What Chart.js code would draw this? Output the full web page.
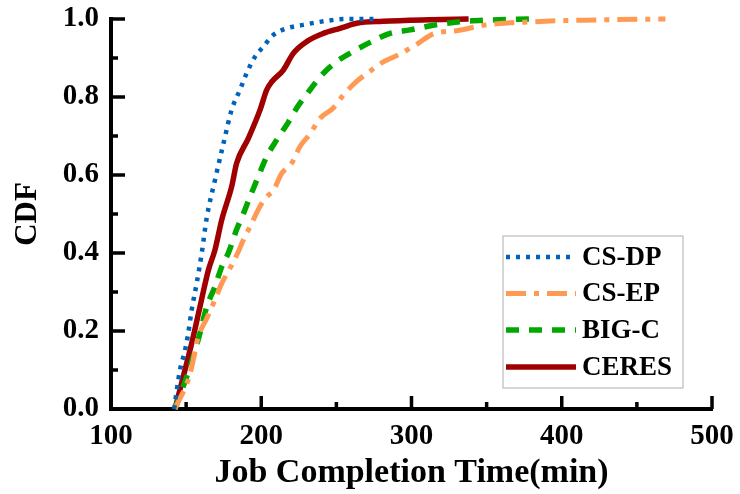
<!DOCTYPE html>
<html>
<head>
<meta charset="utf-8">
<script src="https://cdn.jsdelivr.net/npm/chart.js@4"></script>
<style>
html,body{margin:0;padding:0;background:#fff;}
#wrap{width:740px;height:494px;position:relative;}
</style>
</head>
<body>
<div id="wrap"><canvas id="c" width="740" height="494"></canvas></div>
<script>
// ---- Data ----
const seriesNames = ['CS-DP', 'CS-EP', 'BIG-C', 'CERES'];

const dpX = [142, 145.9, 149.3, 151.4, 153.7, 157, 160.4, 163.7, 169.2, 174.8, 180.3, 186, 190.3, 195.8, 201.4, 208, 216.9, 228, 241.3, 256, 277];
const dpY = [0, 0.10, 0.151, 0.194, 0.254, 0.322, 0.40, 0.49, 0.587, 0.68, 0.767, 0.82, 0.861, 0.903, 0.929, 0.959, 0.976, 0.985, 0.994, 1.0, 1.0];

const epX = [142.6, 152.6, 158.1, 163.7, 169.2, 173.7, 180.3, 184.7, 188, 192.5, 199.2, 203.6, 208, 213.6, 220.2, 225.8, 232.4, 239.1, 248, 254.6, 263.5, 272.4, 281.2, 292.3, 303.4, 314.5, 330, 350, 381, 414, 469];
const epY = [0, 0.09, 0.185, 0.232, 0.28, 0.322, 0.369, 0.403, 0.433, 0.467, 0.52, 0.544, 0.56, 0.604, 0.63, 0.673, 0.705, 0.745, 0.772, 0.805, 0.84, 0.866, 0.89, 0.91, 0.935, 0.962, 0.97, 0.985, 0.993, 0.997, 1.0];

const bgX = [142.6, 152.6, 159.2, 163.7, 169.2, 173.7, 178.1, 183.6, 188, 192.5, 198, 203.6, 210.3, 218, 224.7, 232.4, 240.2, 250.2, 261.3, 272.4, 285.7, 299, 314.5, 332, 350, 379];
const bgY = [0, 0.108, 0.194, 0.262, 0.314, 0.365, 0.40, 0.46, 0.50, 0.544, 0.596, 0.647, 0.69, 0.735, 0.778, 0.818, 0.856, 0.891, 0.917, 0.94, 0.963, 0.972, 0.984, 0.993, 0.997, 1.0];

const ceX = [142.6, 148.1, 153.7, 159.2, 164.8, 169.2, 173.7, 180.3, 183.6, 191.4, 199.2, 203.6, 207, 214.7, 221.3, 230.2, 241.3, 252.4, 263.5, 281, 312, 338];
const ceY = [0, 0.083, 0.168, 0.262, 0.356, 0.408, 0.485, 0.57, 0.63, 0.694, 0.767, 0.818, 0.839, 0.869, 0.912, 0.942, 0.963, 0.976, 0.989, 0.994, 0.998, 1.0];

const xTicks = [100, 200, 300, 400, 500];
const yTicks = [0.0, 0.2, 0.4, 0.6, 0.8, 1.0];

const xTitle = 'Job Completion Time(min)';
const yTitle = 'CDF';

// ---- Build ----
function pts(xs, ys) { return xs.map((x, i) => ({x: x, y: ys[i]})); }

const FONT = '"Liberation Serif", "Times New Roman", serif';

const datasets = [
  {label: seriesNames[0], data: pts(dpX, dpY), borderColor: '#0062B8', borderWidth: 4.5, borderDash: [4, 6], borderCapStyle: 'butt'},
  {label: seriesNames[1], data: pts(epX, epY), borderColor: '#FF9A55', borderWidth: 5, borderDash: [20, 8, 5, 8]},
  {label: seriesNames[2], data: pts(bgX, bgY), borderColor: '#00A800', borderWidth: 5.5, borderDash: [13, 10]},
  {label: seriesNames[3], data: pts(ceX, ceY), borderColor: '#A00000', borderWidth: 5.5}
].map(d => Object.assign(d, {showLine: true, pointRadius: 0, pointHoverRadius: 0, cubicInterpolationMode: 'monotone', fill: false, clip: 6}));

const tickPlugin = {
  id: 'innerTicks',
  afterDraw(chart) {
    const ctx = chart.ctx;
    const xs = chart.scales.x, ys = chart.scales.y;
    const ca = chart.chartArea;
    ctx.save();
    ctx.strokeStyle = '#000';
    ctx.lineWidth = 3.5;
    ctx.lineCap = 'butt';
    for (let v = 100; v <= 500; v += 50) {
      const px = xs.getPixelForValue(v);
      const len = (v % 100 === 0) ? 13 : 7;
      ctx.beginPath(); ctx.moveTo(px, ca.bottom); ctx.lineTo(px, ca.bottom - len); ctx.stroke();
    }
    for (let i = 0; i <= 10; i++) {
      const v = i / 10;
      const py = ys.getPixelForValue(v);
      const len = (i % 2 === 0) ? 14 : 7;
      ctx.beginPath(); ctx.moveTo(ca.left, py); ctx.lineTo(ca.left + len, py); ctx.stroke();
    }
    // legend
    const bx = 503, by = 236, bw = 180, bh = 152;
    ctx.fillStyle = '#fff';
    ctx.fillRect(bx, by, bw, bh);
    ctx.strokeStyle = '#BBBBBB';
    ctx.lineWidth = 1.2;
    ctx.strokeRect(bx, by, bw, bh);
    const rowY = [257, 293.5, 330, 367];
    chart.data.datasets.forEach((d, i) => {
      const y = rowY[i];
      ctx.save();
      ctx.strokeStyle = d.borderColor;
      ctx.lineWidth = d.borderWidth;
      ctx.setLineDash(d.borderDash || []);
      ctx.beginPath(); ctx.moveTo(506, y); ctx.lineTo(576, y); ctx.stroke();
      ctx.restore();
      ctx.fillStyle = '#000';
      ctx.font = 'bold 27px ' + FONT;
      ctx.textBaseline = 'middle';
      ctx.textAlign = 'left';
      ctx.fillText(d.label, 582, y + 1);
    });
    ctx.restore();
  }
};

new Chart(document.getElementById('c'), {
  type: 'scatter',
  data: {datasets: datasets},
  plugins: [tickPlugin],
  options: {
    responsive: false,
    animation: false,
    devicePixelRatio: 1,
    layout: {padding: {top: 19, right: 28, left: 0, bottom: 0}},
    plugins: {legend: {display: false}, tooltip: {enabled: false}},
    scales: {
      x: {
        type: 'linear', min: 100, max: 500,
        afterBuildTicks(s) { s.ticks = xTicks.map(v => ({value: v})); },
        afterFit(s) { s.height = 85; s.paddingLeft = 0; s.paddingRight = 0; },
        ticks: {color: '#000', font: {family: FONT, size: 29, weight: 'bold'}, padding: 10, maxRotation: 0,
                callback: v => String(v)},
        grid: {display: true, drawOnChartArea: false, drawTicks: false},
        border: {display: true, color: '#000', width: 4},
        title: {display: true, text: xTitle, color: '#000', font: {family: FONT, size: 34, weight: 'bold'}, padding: {top: 0, bottom: 0}}
      },
      y: {
        type: 'linear', min: 0, max: 1,
        afterBuildTicks(s) { s.ticks = yTicks.map(v => ({value: v})); },
        afterFit(s) { s.width = 111; s.paddingTop = 0; s.paddingBottom = 0; },
        ticks: {color: '#000', font: {family: FONT, size: 29, weight: 'bold'}, padding: 12,
                callback: v => Number(v).toFixed(1)},
        grid: {display: true, drawOnChartArea: false, drawTicks: false},
        border: {display: true, color: '#000', width: 4},
        title: {display: true, text: yTitle, color: '#000', font: {family: FONT, size: 31, weight: 'bold'}, padding: {top: 9, bottom: 0}}
      }
    }
  }
});
</script>
</body>
</html>
